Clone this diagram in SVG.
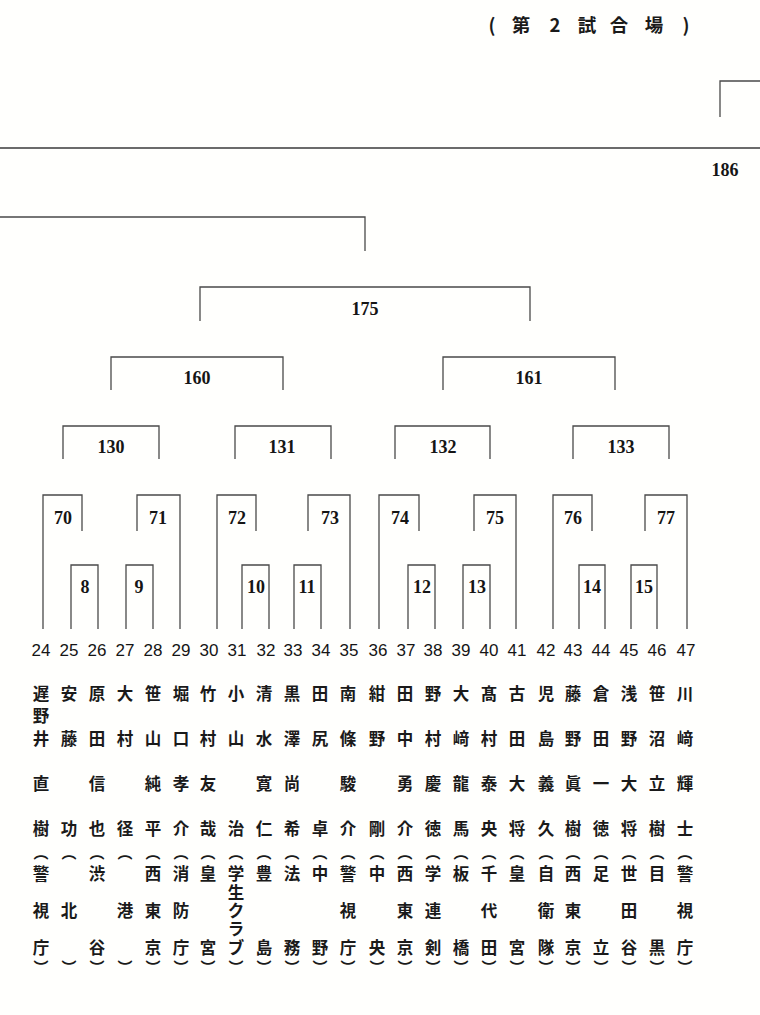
<svg xmlns="http://www.w3.org/2000/svg" width="760" height="1015" viewBox="0 0 760 1015">
<style>
.bg{fill:#fffffd}
.ln{fill:none;stroke:#4a4a4a;stroke-width:1.3}
.rule{fill:none;stroke:#3a3a3a;stroke-width:1.6}
.lbl{font-family:"Liberation Serif",serif;font-weight:bold;font-size:18px;fill:#151515;text-anchor:middle}
.num{font-family:"Liberation Sans Narrow","Liberation Sans",sans-serif;font-size:17px;fill:#151515;text-anchor:middle}
.nm{font-family:"Noto Sans CJK JP",sans-serif;font-weight:bold;font-size:16.5px;fill:#1a1a1a;text-anchor:middle;dominant-baseline:central}
.op{font-family:"Noto Sans CJK JP",sans-serif;font-weight:bold;font-size:15px;fill:#1a1a1a;text-anchor:middle;dominant-baseline:central}
.hd{font-family:"Noto Sans CJK JP",sans-serif;font-weight:bold;font-size:18.5px;fill:#1a1a1a;text-anchor:middle;dominant-baseline:central}
.pg{font-family:"Liberation Serif",serif;font-weight:bold;font-size:18px;fill:#151515;text-anchor:middle}
</style>
<rect class="bg" x="0" y="0" width="760" height="1015"/>
<g id="header">
<text class="hd"><tspan x="492" y="24">(</tspan><tspan x="521" y="24">第</tspan><tspan x="555" y="24">2</tspan><tspan x="587" y="24">試</tspan><tspan x="619" y="24">合</tspan><tspan x="654" y="24">場</tspan><tspan x="686" y="24">)</tspan></text>
</g>
<g id="page"><text class="pg" x="725" y="176">186</text></g>
<g id="connectors">
<path class="rule" d="M0 148H760"/>
<path class="ln" d="M720 117V81H760"/>
<path class="ln" d="M0 217H365V251"/>
<path class="ln" d="M200 321V287H530V321"/>
<path class="ln" d="M111 390V357H283V390"/>
<path class="ln" d="M443 390V357H615V390"/>
<path class="ln" d="M63 459V426H159V459"/>
<path class="ln" d="M235 459V426H331V459"/>
<path class="ln" d="M395 459V426H490V459"/>
<path class="ln" d="M573 459V426H669V459"/>
<path class="ln" d="M43 629V495H82V531"/>
<path class="ln" d="M137 531V495H180V629"/>
<path class="ln" d="M217 629V495H256V531"/>
<path class="ln" d="M308 531V495H350V629"/>
<path class="ln" d="M379 629V495H419V531"/>
<path class="ln" d="M474 531V495H516V629"/>
<path class="ln" d="M553 629V495H592V531"/>
<path class="ln" d="M645 531V495H687V629"/>
<path class="ln" d="M71 629V565H98V629"/>
<path class="ln" d="M126 629V565H153V629"/>
<path class="ln" d="M242 629V565H269V629"/>
<path class="ln" d="M294 629V565H321V629"/>
<path class="ln" d="M408 629V565H435V629"/>
<path class="ln" d="M463 629V565H490V629"/>
<path class="ln" d="M579 629V565H605V629"/>
<path class="ln" d="M631 629V565H657V629"/>
</g>
<g id="m175"><text class="lbl" x="365" y="315">175</text></g>
<g id="m160"><text class="lbl" x="197" y="384">160</text></g>
<g id="m161"><text class="lbl" x="529" y="384">161</text></g>
<g id="m130"><text class="lbl" x="111" y="453">130</text></g>
<g id="m131"><text class="lbl" x="282" y="453">131</text></g>
<g id="m132"><text class="lbl" x="443" y="453">132</text></g>
<g id="m133"><text class="lbl" x="621" y="453">133</text></g>
<g id="m70"><text class="lbl" x="63" y="524">70</text></g>
<g id="m71"><text class="lbl" x="158" y="524">71</text></g>
<g id="m72"><text class="lbl" x="237" y="524">72</text></g>
<g id="m73"><text class="lbl" x="330" y="524">73</text></g>
<g id="m74"><text class="lbl" x="400" y="524">74</text></g>
<g id="m75"><text class="lbl" x="495" y="524">75</text></g>
<g id="m76"><text class="lbl" x="573" y="524">76</text></g>
<g id="m77"><text class="lbl" x="666" y="524">77</text></g>
<g id="m8"><text class="lbl" x="85" y="593">8</text></g>
<g id="m9"><text class="lbl" x="139" y="593">9</text></g>
<g id="m10"><text class="lbl" x="256" y="593">10</text></g>
<g id="m11"><text class="lbl" x="307" y="593">11</text></g>
<g id="m12"><text class="lbl" x="422" y="593">12</text></g>
<g id="m13"><text class="lbl" x="477" y="593">13</text></g>
<g id="m14"><text class="lbl" x="592" y="593">14</text></g>
<g id="m15"><text class="lbl" x="644" y="593">15</text></g>
<g id="e24"><text class="num" x="41" y="656">24</text><text class="nm"><tspan x="41" y="693">遅</tspan><tspan x="41" y="715">野</tspan><tspan x="41" y="738">井</tspan><tspan x="41" y="783">直</tspan><tspan x="41" y="828">樹</tspan><tspan x="41" y="873">警</tspan><tspan x="41" y="910">視</tspan><tspan x="41" y="947">庁</tspan></text><text class="op" x="41" y="851">︵</text><text class="op" x="41" y="966">︶</text></g>
<g id="e25"><text class="num" x="69" y="656">25</text><text class="nm"><tspan x="69" y="693">安</tspan><tspan x="69" y="738">藤</tspan><tspan x="69" y="828">功</tspan><tspan x="69" y="910">北</tspan></text><text class="op" x="69" y="851">︵</text><text class="op" x="69" y="966">︶</text></g>
<g id="e26"><text class="num" x="97" y="656">26</text><text class="nm"><tspan x="97" y="693">原</tspan><tspan x="97" y="738">田</tspan><tspan x="97" y="783">信</tspan><tspan x="97" y="828">也</tspan><tspan x="97" y="873">渋</tspan><tspan x="97" y="947">谷</tspan></text><text class="op" x="97" y="851">︵</text><text class="op" x="97" y="966">︶</text></g>
<g id="e27"><text class="num" x="125" y="656">27</text><text class="nm"><tspan x="125" y="693">大</tspan><tspan x="125" y="738">村</tspan><tspan x="125" y="828">径</tspan><tspan x="125" y="910">港</tspan></text><text class="op" x="125" y="851">︵</text><text class="op" x="125" y="966">︶</text></g>
<g id="e28"><text class="num" x="153" y="656">28</text><text class="nm"><tspan x="153" y="693">笹</tspan><tspan x="153" y="738">山</tspan><tspan x="153" y="783">純</tspan><tspan x="153" y="828">平</tspan><tspan x="153" y="873">西</tspan><tspan x="153" y="910">東</tspan><tspan x="153" y="947">京</tspan></text><text class="op" x="153" y="851">︵</text><text class="op" x="153" y="966">︶</text></g>
<g id="e29"><text class="num" x="181" y="656">29</text><text class="nm"><tspan x="181" y="693">堀</tspan><tspan x="181" y="738">口</tspan><tspan x="181" y="783">孝</tspan><tspan x="181" y="828">介</tspan><tspan x="181" y="873">消</tspan><tspan x="181" y="910">防</tspan><tspan x="181" y="947">庁</tspan></text><text class="op" x="181" y="851">︵</text><text class="op" x="181" y="966">︶</text></g>
<g id="e30"><text class="num" x="209" y="656">30</text><text class="nm"><tspan x="208" y="693">竹</tspan><tspan x="208" y="738">村</tspan><tspan x="208" y="783">友</tspan><tspan x="208" y="828">哉</tspan><tspan x="208" y="873">皇</tspan><tspan x="208" y="947">宮</tspan></text><text class="op" x="208" y="851">︵</text><text class="op" x="208" y="966">︶</text></g>
<g id="e31"><text class="num" x="237" y="656">31</text><text class="nm"><tspan x="236" y="693">小</tspan><tspan x="236" y="738">山</tspan><tspan x="236" y="828">治</tspan><tspan x="236" y="873">学</tspan><tspan x="236" y="892">生</tspan><tspan x="236" y="910">ク</tspan><tspan x="236" y="928">ラ</tspan><tspan x="236" y="947">ブ</tspan></text><text class="op" x="236" y="851">︵</text><text class="op" x="236" y="966">︶</text></g>
<g id="e32"><text class="num" x="266" y="656">32</text><text class="nm"><tspan x="264" y="693">清</tspan><tspan x="264" y="738">水</tspan><tspan x="264" y="783">寛</tspan><tspan x="264" y="828">仁</tspan><tspan x="264" y="873">豊</tspan><tspan x="264" y="947">島</tspan></text><text class="op" x="264" y="851">︵</text><text class="op" x="264" y="966">︶</text></g>
<g id="e33"><text class="num" x="293" y="656">33</text><text class="nm"><tspan x="292" y="693">黒</tspan><tspan x="292" y="738">澤</tspan><tspan x="292" y="783">尚</tspan><tspan x="292" y="828">希</tspan><tspan x="292" y="873">法</tspan><tspan x="292" y="947">務</tspan></text><text class="op" x="292" y="851">︵</text><text class="op" x="292" y="966">︶</text></g>
<g id="e34"><text class="num" x="321" y="656">34</text><text class="nm"><tspan x="320" y="693">田</tspan><tspan x="320" y="738">尻</tspan><tspan x="320" y="828">卓</tspan><tspan x="320" y="873">中</tspan><tspan x="320" y="947">野</tspan></text><text class="op" x="320" y="851">︵</text><text class="op" x="320" y="966">︶</text></g>
<g id="e35"><text class="num" x="349" y="656">35</text><text class="nm"><tspan x="348" y="693">南</tspan><tspan x="348" y="738">條</tspan><tspan x="348" y="783">駿</tspan><tspan x="348" y="828">介</tspan><tspan x="348" y="873">警</tspan><tspan x="348" y="910">視</tspan><tspan x="348" y="947">庁</tspan></text><text class="op" x="348" y="851">︵</text><text class="op" x="348" y="966">︶</text></g>
<g id="e36"><text class="num" x="378" y="656">36</text><text class="nm"><tspan x="377" y="693">紺</tspan><tspan x="377" y="738">野</tspan><tspan x="377" y="828">剛</tspan><tspan x="377" y="873">中</tspan><tspan x="377" y="947">央</tspan></text><text class="op" x="377" y="851">︵</text><text class="op" x="377" y="966">︶</text></g>
<g id="e37"><text class="num" x="406" y="656">37</text><text class="nm"><tspan x="405" y="693">田</tspan><tspan x="405" y="738">中</tspan><tspan x="405" y="783">勇</tspan><tspan x="405" y="828">介</tspan><tspan x="405" y="873">西</tspan><tspan x="405" y="910">東</tspan><tspan x="405" y="947">京</tspan></text><text class="op" x="405" y="851">︵</text><text class="op" x="405" y="966">︶</text></g>
<g id="e38"><text class="num" x="433" y="656">38</text><text class="nm"><tspan x="433" y="693">野</tspan><tspan x="433" y="738">村</tspan><tspan x="433" y="783">慶</tspan><tspan x="433" y="828">徳</tspan><tspan x="433" y="873">学</tspan><tspan x="433" y="910">連</tspan><tspan x="433" y="947">剣</tspan></text><text class="op" x="433" y="851">︵</text><text class="op" x="433" y="966">︶</text></g>
<g id="e39"><text class="num" x="461" y="656">39</text><text class="nm"><tspan x="461" y="693">大</tspan><tspan x="461" y="738">﨑</tspan><tspan x="461" y="783">龍</tspan><tspan x="461" y="828">馬</tspan><tspan x="461" y="873">板</tspan><tspan x="461" y="947">橋</tspan></text><text class="op" x="461" y="851">︵</text><text class="op" x="461" y="966">︶</text></g>
<g id="e40"><text class="num" x="489" y="656">40</text><text class="nm"><tspan x="489" y="693">髙</tspan><tspan x="489" y="738">村</tspan><tspan x="489" y="783">泰</tspan><tspan x="489" y="828">央</tspan><tspan x="489" y="873">千</tspan><tspan x="489" y="910">代</tspan><tspan x="489" y="947">田</tspan></text><text class="op" x="489" y="851">︵</text><text class="op" x="489" y="966">︶</text></g>
<g id="e41"><text class="num" x="517" y="656">41</text><text class="nm"><tspan x="517" y="693">古</tspan><tspan x="517" y="738">田</tspan><tspan x="517" y="783">大</tspan><tspan x="517" y="828">将</tspan><tspan x="517" y="873">皇</tspan><tspan x="517" y="947">宮</tspan></text><text class="op" x="517" y="851">︵</text><text class="op" x="517" y="966">︶</text></g>
<g id="e42"><text class="num" x="546" y="656">42</text><text class="nm"><tspan x="546" y="693">児</tspan><tspan x="546" y="738">島</tspan><tspan x="546" y="783">義</tspan><tspan x="546" y="828">久</tspan><tspan x="546" y="873">自</tspan><tspan x="546" y="910">衛</tspan><tspan x="546" y="947">隊</tspan></text><text class="op" x="546" y="851">︵</text><text class="op" x="546" y="966">︶</text></g>
<g id="e43"><text class="num" x="573" y="656">43</text><text class="nm"><tspan x="573" y="693">藤</tspan><tspan x="573" y="738">野</tspan><tspan x="573" y="783">眞</tspan><tspan x="573" y="828">樹</tspan><tspan x="573" y="873">西</tspan><tspan x="573" y="910">東</tspan><tspan x="573" y="947">京</tspan></text><text class="op" x="573" y="851">︵</text><text class="op" x="573" y="966">︶</text></g>
<g id="e44"><text class="num" x="601" y="656">44</text><text class="nm"><tspan x="601" y="693">倉</tspan><tspan x="601" y="738">田</tspan><tspan x="601" y="783">一</tspan><tspan x="601" y="828">徳</tspan><tspan x="601" y="873">足</tspan><tspan x="601" y="947">立</tspan></text><text class="op" x="601" y="851">︵</text><text class="op" x="601" y="966">︶</text></g>
<g id="e45"><text class="num" x="629" y="656">45</text><text class="nm"><tspan x="629" y="693">浅</tspan><tspan x="629" y="738">野</tspan><tspan x="629" y="783">大</tspan><tspan x="629" y="828">将</tspan><tspan x="629" y="873">世</tspan><tspan x="629" y="910">田</tspan><tspan x="629" y="947">谷</tspan></text><text class="op" x="629" y="851">︵</text><text class="op" x="629" y="966">︶</text></g>
<g id="e46"><text class="num" x="657" y="656">46</text><text class="nm"><tspan x="657" y="693">笹</tspan><tspan x="657" y="738">沼</tspan><tspan x="657" y="783">立</tspan><tspan x="657" y="828">樹</tspan><tspan x="657" y="873">目</tspan><tspan x="657" y="947">黒</tspan></text><text class="op" x="657" y="851">︵</text><text class="op" x="657" y="966">︶</text></g>
<g id="e47"><text class="num" x="686" y="656">47</text><text class="nm"><tspan x="685" y="693">川</tspan><tspan x="685" y="738">﨑</tspan><tspan x="685" y="783">輝</tspan><tspan x="685" y="828">士</tspan><tspan x="685" y="873">警</tspan><tspan x="685" y="910">視</tspan><tspan x="685" y="947">庁</tspan></text><text class="op" x="685" y="851">︵</text><text class="op" x="685" y="966">︶</text></g>
</svg>
